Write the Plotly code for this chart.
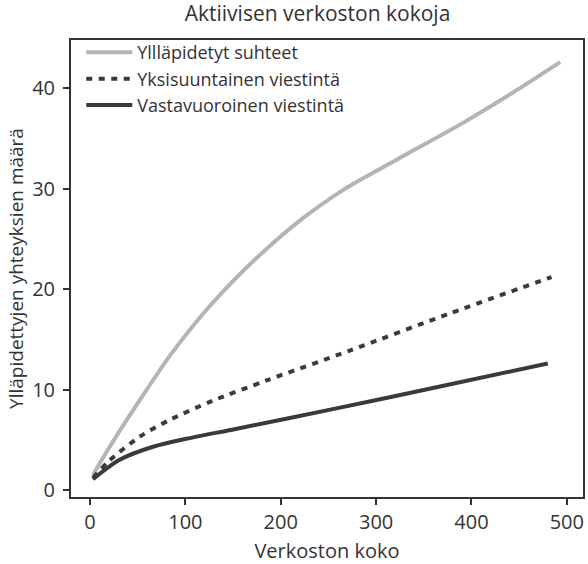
import plotly.graph_objects as go

# Data
x_yllapidetyt = [3, 20, 40, 63, 84, 119, 154, 185, 217, 266, 322, 392, 444, 493]
y_yllapidetyt = [1.5, 4.2, 7.2, 10.5, 13.4, 17.6, 21.2, 24.0, 26.6, 29.9, 32.9, 36.6, 39.6, 42.6]

x_yksisuuntainen = [3, 20, 52, 84, 129, 185, 273, 378, 484]
y_yksisuuntainen = [1.2, 2.9, 5.3, 7.0, 8.9, 10.9, 13.9, 17.6, 21.2]

x_vastavuoroinen = [3, 31, 66, 101, 154, 252, 367, 480]
y_vastavuoroinen = [1.07, 3.0, 4.3, 5.1, 6.1, 8.0, 10.3, 12.6]

x_ticks = [0, 100, 200, 300, 400, 500]
y_ticks = [0, 10, 20, 30, 40]

FONT = "Open Sans"
DARK = "#333333"

fig = go.Figure()
fig.add_trace(go.Scatter(x=x_yllapidetyt, y=y_yllapidetyt, mode="lines",
                         name="Yllläpidetyt suhteet",
                         line=dict(color="#b4b4b4", width=4, shape="spline", smoothing=0.8)))
fig.add_trace(go.Scatter(x=x_yksisuuntainen, y=y_yksisuuntainen, mode="lines",
                         name="Yksisuuntainen viestintä",
                         line=dict(color="#3a3a3a", width=4, dash="6px,6.5px",
                                   shape="spline", smoothing=0.8)))
fig.add_trace(go.Scatter(x=x_vastavuoroinen, y=y_vastavuoroinen, mode="lines",
                         name="Vastavuoroinen viestintä",
                         line=dict(color="#3a3a3a", width=4, shape="spline", smoothing=0.8)))

axis_common = dict(showline=True, mirror=True, linecolor=DARK, linewidth=2,
                   ticks="outside", ticklen=6, tickwidth=2, tickcolor=DARK,
                   showgrid=False, zeroline=False, automargin=False,
                   tickfont=dict(family=FONT, size=20, color=DARK))

fig.update_layout(
    width=588, height=564,
    margin=dict(l=71, r=5, t=40, b=67),
    paper_bgcolor="white", plot_bgcolor="white",
    font=dict(family=FONT, color=DARK),
    title=dict(text="Aktiivisen verkoston kokoja", x=0.540, xanchor="center",
               y=0.976, yanchor="middle", font=dict(family=FONT, size=21, color=DARK)),
    xaxis=dict(range=[-20, 517], tickvals=x_ticks, ticklabelstandoff=0,
               title=dict(text="Verkoston koko", font=dict(family=FONT, size=20, color=DARK),
                          standoff=10),
               **axis_common),
    yaxis=dict(range=[-0.7, 44.8], tickvals=y_ticks, ticklabelstandoff=4,
               title=dict(text="Ylläpidettyjen yhteyksien määrä",
                          font=dict(family=FONT, size=19, color=DARK), standoff=3),
               **axis_common),
    legend=dict(x=0.020, y=1.013, xanchor="left", yanchor="top", itemwidth=46,
                bgcolor="rgba(0,0,0,0)", font=dict(family=FONT, size=18, color=DARK),
                tracegroupgap=0),
    showlegend=True,
)

# Remove the default 8px body margin so the figure fills the window exactly
fig.write_html("out.html", config={"displayModeBar": False},
               post_script="document.body.style.margin='0px';")
